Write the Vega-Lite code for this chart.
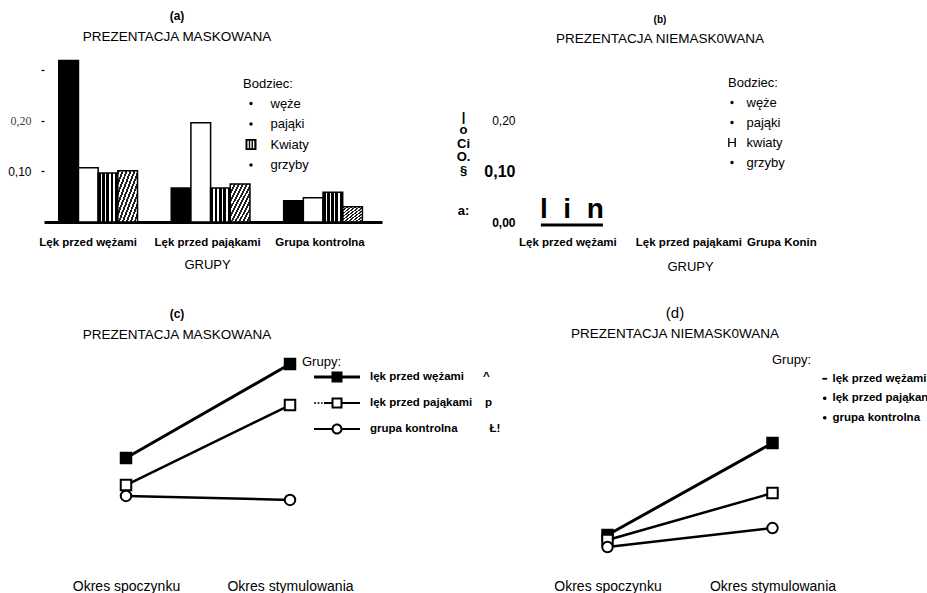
{
  "$schema": "https://vega.github.io/schema/vega-lite/v6.json",
  "background": "white",
  "padding": {"left": 7, "top": 10, "right": 0, "bottom": 0},
  "bounds": "flush",
  "align": "each",
  "columns": 2,
  "spacing": {"row": 128, "column": 143},
  "resolve": {"scale": {"shape": "independent"}, "legend": {"shape": "independent"}},
  "config": {
    "view": {"stroke": null},
    "font": "Liberation Sans",
    "axis": {"labelColor": "black", "titleColor": "black", "labelFont": "Liberation Sans", "titleFont": "Liberation Sans", "grid": false},
    "legend": {"titleColor": "black", "labelColor": "black", "titleFont": "Liberation Sans", "labelFont": "Liberation Sans", "padding": 0},
    "title": {"color": "black", "subtitleColor": "black", "font": "Liberation Sans", "subtitleFont": "Liberation Sans"}
  },
  "concat": [
    {
      "width": 338,
      "height": 162,
      "title": {"text": "(a)", "subtitle": "PREZENTACJA MASKOWANA", "anchor": "middle", "frame": "group", "dx": -36, "fontSize": 12, "fontWeight": "bold", "subtitleFontSize": 13.5, "subtitlePadding": 7, "offset": 15},
      "data": {"values": [
        {"grupa": "Lęk przed wężami", "bodziec": "węże", "wartosc": 0.319},
        {"grupa": "Lęk przed wężami", "bodziec": "pająki", "wartosc": 0.107},
        {"grupa": "Lęk przed wężami", "bodziec": "Kwiaty", "wartosc": 0.097},
        {"grupa": "Lęk przed wężami", "bodziec": "grzyby", "wartosc": 0.101},
        {"grupa": "Lęk przed pająkami", "bodziec": "węże", "wartosc": 0.067},
        {"grupa": "Lęk przed pająkami", "bodziec": "pająki", "wartosc": 0.196},
        {"grupa": "Lęk przed pająkami", "bodziec": "Kwiaty", "wartosc": 0.067},
        {"grupa": "Lęk przed pająkami", "bodziec": "grzyby", "wartosc": 0.075},
        {"grupa": "Grupa kontrolna", "bodziec": "węże", "wartosc": 0.042},
        {"grupa": "Grupa kontrolna", "bodziec": "pająki", "wartosc": 0.048},
        {"grupa": "Grupa kontrolna", "bodziec": "Kwiaty", "wartosc": 0.059},
        {"grupa": "Grupa kontrolna", "bodziec": "grzyby", "wartosc": 0.030}
      ]},
      "layer": [
        {
          "mark": {"type": "bar", "stroke": "black", "strokeWidth": 1.5},
          "encoding": {
            "x": {"field": "grupa", "type": "nominal", "sort": ["Lęk przed wężami", "Lęk przed pająkami", "Grupa kontrolna"],
                  "scale": {"paddingInner": 0.3, "paddingOuter": 0.153, "align": 0.43},
                  "axis": {"title": "GRUPY", "titleFontSize": 13, "titleFontWeight": "normal", "titlePadding": 11, "titleX": 163, "labelFontWeight": "bold", "labelFontSize": 11.5, "labelPadding": 14, "labelAngle": 0, "ticks": false, "domain": true, "domainColor": "black", "domainWidth": 3,
                           "labelOffset": {"condition": {"test": "datum.value === 'Lęk przed wężami'", "value": -10}, "value": -3}}},
            "xOffset": {"field": "bodziec", "type": "nominal", "sort": ["węże", "pająki", "Kwiaty", "grzyby"], "scale": {"paddingInner": 0, "paddingOuter": 0}},
            "y": {"field": "wartosc", "type": "quantitative", "scale": {"domain": [0, 0.32], "nice": false},
                  "axis": {"title": null, "values": [0.1, 0.2, 0.3], "labelExpr": "datum.value > 0.25 ? '' : replace(format(datum.value, '.2f'), '.', ',')", "domain": false, "tickSize": 3, "tickColor": "black", "tickWidth": 1.2, "labelPadding": 10, "labelFontSize": 12,
                           "labelFont": {"condition": {"test": "datum.value > 0.15 && datum.value < 0.25", "value": "Liberation Serif"}, "value": "Liberation Sans"},
                           "labelColor": {"condition": {"test": "datum.value > 0.15 && datum.value < 0.25", "value": "#444444"}, "value": "black"}}},
            "fill": {
              "condition": [
                {"test": "datum.bodziec === 'pająki'", "value": "white"},
                {"test": "datum.bodziec === 'Kwiaty'", "value": {"gradient": "linear", "x1": 0, "y1": 0, "x2": 1, "y2": 0, "stops": [
                  {"offset": 0, "color": "black"}, {"offset": 0.14, "color": "black"}, {"offset": 0.14, "color": "white"}, {"offset": 0.22, "color": "white"},
                  {"offset": 0.22, "color": "black"}, {"offset": 0.34, "color": "black"}, {"offset": 0.34, "color": "white"}, {"offset": 0.42, "color": "white"},
                  {"offset": 0.42, "color": "black"}, {"offset": 0.56, "color": "black"}, {"offset": 0.56, "color": "white"}, {"offset": 0.63, "color": "white"},
                  {"offset": 0.63, "color": "black"}, {"offset": 0.78, "color": "black"}, {"offset": 0.78, "color": "white"}, {"offset": 0.86, "color": "white"},
                  {"offset": 0.86, "color": "black"}, {"offset": 1, "color": "black"}]}},
                {"test": "datum.bodziec === 'grzyby'", "value": {"gradient": "linear", "x1": 0, "y1": 0, "x2": 1, "y2": 1, "stops": [
                  {"offset": 0, "color": "#222222"}, {"offset": 0.05, "color": "#222222"}, {"offset": 0.05, "color": "white"}, {"offset": 0.1, "color": "white"},
                  {"offset": 0.1, "color": "#222222"}, {"offset": 0.15, "color": "#222222"}, {"offset": 0.15, "color": "white"}, {"offset": 0.2, "color": "white"},
                  {"offset": 0.2, "color": "#222222"}, {"offset": 0.25, "color": "#222222"}, {"offset": 0.25, "color": "white"}, {"offset": 0.3, "color": "white"},
                  {"offset": 0.3, "color": "#222222"}, {"offset": 0.35, "color": "#222222"}, {"offset": 0.35, "color": "white"}, {"offset": 0.4, "color": "white"},
                  {"offset": 0.4, "color": "#222222"}, {"offset": 0.45, "color": "#222222"}, {"offset": 0.45, "color": "white"}, {"offset": 0.5, "color": "white"},
                  {"offset": 0.5, "color": "#222222"}, {"offset": 0.55, "color": "#222222"}, {"offset": 0.55, "color": "white"}, {"offset": 0.6, "color": "white"},
                  {"offset": 0.6, "color": "#222222"}, {"offset": 0.65, "color": "#222222"}, {"offset": 0.65, "color": "white"}, {"offset": 0.7, "color": "white"},
                  {"offset": 0.7, "color": "#222222"}, {"offset": 0.75, "color": "#222222"}, {"offset": 0.75, "color": "white"}, {"offset": 0.8, "color": "white"},
                  {"offset": 0.8, "color": "#222222"}, {"offset": 0.85, "color": "#222222"}, {"offset": 0.85, "color": "white"}, {"offset": 0.9, "color": "white"},
                  {"offset": 0.9, "color": "#222222"}, {"offset": 0.95, "color": "#222222"}, {"offset": 0.95, "color": "white"}, {"offset": 1, "color": "white"}]}}
              ],
              "value": "black"
            }
          }
        },
        {
          "mark": {"type": "point", "opacity": 0, "filled": true, "color": "black"},
          "encoding": {
            "shape": {"field": "bodziec", "type": "nominal",
                      "scale": {"domain": ["węże", "pająki", "Kwiaty", "grzyby"],
                                "range": ["M-0.3,0A0.3,0.3,0,1,1,0.3,0A0.3,0.3,0,1,1,-0.3,0Z",
                                          "M-0.3,0A0.3,0.3,0,1,1,0.3,0A0.3,0.3,0,1,1,-0.3,0Z",
                                          "M-1,-1H1V-0.7H-1Z M-1,0.7H1V1H-1Z M-1,-1H-0.65V1H-1Z M-0.4,-1H-0.15V1H-0.4Z M0.1,-1H0.35V1H0.1Z M0.6,-1H1V1H0.6Z",
                                          "M-0.3,0A0.3,0.3,0,1,1,0.3,0A0.3,0.3,0,1,1,-0.3,0Z"]},
                      "legend": {"title": "Bodziec:", "orient": "none", "legendX": 199, "legendY": 18, "titleFontSize": 13, "titleFontWeight": "normal", "titlePadding": 6,
                                 "labelFontSize": 13, "labelFontWeight": "normal", "symbolSize": 121, "symbolFillColor": "black", "symbolStrokeColor": "black", "symbolStrokeWidth": 0, "symbolOpacity": 1,
                                 "symbolOffset": 1.5, "labelOffset": 13, "rowPadding": 6.5,
                                 "encode": {"labels": {"update": {"dx": {"signal": "datum.label === 'Kwiaty' ? -6 : 0"}}}}}}
          }
        }
      ]
    },
    {
      "width": 330,
      "height": 162,
      "title": {"text": "(b)", "subtitle": "PREZENTACJA NIEMASK0WANA", "anchor": "middle", "frame": "group", "dx": -30, "fontSize": 10, "fontWeight": "bold", "subtitleFontSize": 13.5, "subtitlePadding": 7, "offset": 15},
      "layer": [
        {
          "data": {"values": [{"grupa": "Lęk przed wężami", "wartosc": 0}]},
          "mark": {"type": "text", "text": "l\u00a0\u00a0i\u00a0\u00a0n", "font": "Liberation Sans", "fontWeight": "bold", "fontSize": 28, "baseline": "alphabetic", "dy": -4, "color": "black"},
          "encoding": {
            "x": {"field": "grupa", "type": "nominal",
                  "scale": {"domain": ["Lęk przed wężami", "Lęk przed pająkami", "Grupa Konin"], "paddingInner": 0.3, "paddingOuter": 0.0974, "align": 0.315},
                  "axis": {"title": "GRUPY", "titleFontSize": 13, "titleFontWeight": "normal", "titlePadding": 13, "labelFontWeight": "bold", "labelFontSize": 11.5, "labelPadding": 14, "labelAngle": 0, "ticks": false, "domain": false,
                           "labelOffset": {"condition": [{"test": "datum.value === 'Grupa Konin'", "value": -18}, {"test": "datum.value === 'Lęk przed pająkami'", "value": 3}], "value": -4}}},
            "y": {"field": "wartosc", "type": "quantitative", "scale": {"domain": [0, 0.32], "nice": false},
                  "axis": {"values": [0, 0.1, 0.2], "labelExpr": "replace(format(datum.value, '.2f'), '.', ',')", "domain": false, "ticks": false, "labelPadding": 10,
                           "labelFontWeight": {"condition": {"test": "datum.value < 0.15", "value": "bold"}, "value": "normal"},
                           "labelFontSize": {"condition": {"test": "datum.value > 0.05 && datum.value < 0.15", "value": 16}, "value": 12},
                           "title": ["|", "o", "Ci", "O.", "§", "\u2800", "\u2800\u2800", "a:"], "titleAngle": 0, "titleX": -62, "titleY": 50, "titleAlign": "center", "titleBaseline": "top",
                           "titleFontWeight": "bold", "titleFontSize": 13, "titleLineHeight": 13.5}}
          }
        },
        {
          "data": {"values": [{"grupa": "Lęk przed wężami", "wartosc": 0}]},
          "mark": {"type": "tick", "thickness": 3, "size": 62, "color": "black", "opacity": 1, "yOffset": 3},
          "encoding": {
            "x": {"field": "grupa", "type": "nominal"},
            "y": {"field": "wartosc", "type": "quantitative"}
          }
        },
        {
          "data": {"values": [{"bodziec": "węże"}, {"bodziec": "pająki"}, {"bodziec": "kwiaty"}, {"bodziec": "grzyby"}]},
          "mark": {"type": "point", "opacity": 0, "filled": true, "color": "black"},
          "encoding": {
            "shape": {"field": "bodziec", "type": "nominal",
                      "scale": {"domain": ["węże", "pająki", "kwiaty", "grzyby"],
                                "range": ["M-0.3,0A0.3,0.3,0,1,1,0.3,0A0.3,0.3,0,1,1,-0.3,0Z",
                                          "M-0.3,0A0.3,0.3,0,1,1,0.3,0A0.3,0.3,0,1,1,-0.3,0Z",
                                          "M-0.7,-0.8H-0.45V0.8H-0.7Z M0.45,-0.8H0.7V0.8H0.45Z M-0.45,-0.1H0.45V0.1H-0.45Z",
                                          "M-0.3,0A0.3,0.3,0,1,1,0.3,0A0.3,0.3,0,1,1,-0.3,0Z"]},
                      "legend": {"title": "Bodziec:", "orient": "none", "legendX": 203, "legendY": 17, "titleFontSize": 13, "titleFontWeight": "normal", "titlePadding": 6,
                                 "labelFontSize": 13, "labelFontWeight": "normal", "symbolSize": 121, "symbolFillColor": "black", "symbolStrokeColor": "black", "symbolStrokeWidth": 0, "symbolOpacity": 1,
                                 "symbolOffset": -2.5, "labelOffset": 8, "rowPadding": 6}}
          }
        }
      ]
    },
    {
      "width": 328,
      "height": 210,
      "title": {"text": "(c)", "subtitle": "PREZENTACJA MASKOWANA", "anchor": "middle", "frame": "group", "dx": -31, "fontSize": 12, "fontWeight": "bold", "subtitleFontSize": 13.5, "subtitlePadding": 7, "offset": 8},
      "data": {"values": [
        {"okres": "Okres spoczynku", "grupa": "lęk przed wężami", "wartosc": 0.486},
        {"okres": "Okres stymulowania", "grupa": "lęk przed wężami", "wartosc": 0.933},
        {"okres": "Okres spoczynku", "grupa": "lęk przed pająkami", "wartosc": 0.357},
        {"okres": "Okres stymulowania", "grupa": "lęk przed pająkami", "wartosc": 0.738},
        {"okres": "Okres spoczynku", "grupa": "grupa kontrolna", "wartosc": 0.305},
        {"okres": "Okres stymulowania", "grupa": "grupa kontrolna", "wartosc": 0.286}
      ]},
      "encoding": {
        "x": {"field": "okres", "type": "ordinal", "sort": ["Okres spoczynku", "Okres stymulowania"], "scale": {"type": "point", "padding": 0.5},
              "axis": {"title": null, "domain": false, "ticks": false, "labelAngle": 0, "labelFontSize": 14, "labelPadding": 19}},
        "y": {"field": "wartosc", "type": "quantitative", "scale": {"domain": [0, 1], "nice": false}, "axis": null}
      },
      "layer": [
        {
          "mark": {"type": "line", "color": "black"},
          "encoding": {
            "detail": {"field": "grupa", "type": "nominal"},
            "strokeWidth": {"condition": {"test": "datum.grupa === 'lęk przed wężami'", "value": 3}, "value": 2.5}
          }
        },
        {
          "mark": {"type": "point", "filled": true, "stroke": "black", "strokeWidth": 2, "opacity": 1, "size": 110},
          "encoding": {
            "shape": {"condition": {"test": "datum.grupa === 'grupa kontrolna'", "value": "circle"}, "value": "square"},
            "fill": {"condition": {"test": "datum.grupa === 'lęk przed wężami'", "value": "black"}, "value": "white"}
          }
        },
        {
          "mark": {"type": "point", "opacity": 0, "filled": true, "color": "black"},
          "encoding": {
            "shape": {"field": "grupa", "type": "nominal",
                      "scale": {"domain": ["lęk przed wężami", "lęk przed pająkami", "grupa kontrolna"],
                                "range": ["M-2.3,-0.15H-0.55V-0.55H0.55V-0.15H2.3V0.15H0.55V0.55H-0.55V0.15H-2.3Z",
                                          "M-0.55,-0.55H0.55V0.55H-0.55Z M-0.35,-0.35V0.35H0.35V-0.35Z M0.55,-0.1H2.3V0.1H0.55Z M-1.3,-0.1H-0.55V0.1H-1.3Z M-2.3,-0.07H-2.1V0.07H-2.3Z M-1.95,-0.07H-1.75V0.07H-1.95Z M-1.6,-0.07H-1.45V0.07H-1.6Z",
                                          "M-0.55,0A0.55,0.55,0,1,0,0.55,0A0.55,0.55,0,1,0,-0.55,0Z M-0.35,0A0.35,0.35,0,1,1,0.35,0A0.35,0.35,0,1,1,-0.35,0Z M-2.3,-0.1H-0.55V0.1H-2.3Z M0.55,-0.1H2.3V0.1H0.55Z"]},
                      "legend": {"title": "Grupy:", "orient": "none", "legendX": 258, "legendY": 6, "titleFontSize": 13, "titleFontWeight": "normal", "titlePadding": -2,
                                 "labelFontWeight": "bold", "labelFontSize": 11.5,
                                 "labelExpr": "datum.label === 'lęk przed wężami' ? datum.label + '\u00a0\u00a0\u00a0\u00a0\u00a0\u00a0^' : datum.label === 'lęk przed pająkami' ? datum.label + '\u00a0\u00a0\u00a0\u00a0p' : datum.label + '\u00a0\u00a0\u00a0\u00a0\u00a0\u00a0\u00a0\u00a0\u00a0\u00a0Ł!'",
                                 "symbolSize": 400, "symbolFillColor": "black", "symbolStrokeColor": "black", "symbolStrokeWidth": 0, "symbolOpacity": 1,
                                 "symbolOffset": 25, "labelOffset": 23, "rowPadding": 10}}
          }
        }
      ]
    },
    {
      "width": 330,
      "height": 210,
      "title": {"text": "(d)", "subtitle": "PREZENTACJA NIEMASK0WANA", "anchor": "middle", "frame": "group", "dx": -15, "fontSize": 15, "fontWeight": "normal", "subtitleFontSize": 13.5, "subtitlePadding": 6, "offset": 10},
      "data": {"values": [
        {"okres": "Okres spoczynku", "grupa": "lęk przed wężami", "wartosc": 0.119},
        {"okres": "Okres stymulowania", "grupa": "lęk przed wężami", "wartosc": 0.557},
        {"okres": "Okres spoczynku", "grupa": "lęk przed pająkami", "wartosc": 0.095},
        {"okres": "Okres stymulowania", "grupa": "lęk przed pająkami", "wartosc": 0.319},
        {"okres": "Okres spoczynku", "grupa": "grupa kontrolna", "wartosc": 0.062},
        {"okres": "Okres stymulowania", "grupa": "grupa kontrolna", "wartosc": 0.152}
      ]},
      "encoding": {
        "x": {"field": "okres", "type": "ordinal", "sort": ["Okres spoczynku", "Okres stymulowania"], "scale": {"type": "point", "padding": 0.5},
              "axis": {"title": null, "domain": false, "ticks": false, "labelAngle": 0, "labelFontSize": 14, "labelPadding": 19}},
        "y": {"field": "wartosc", "type": "quantitative", "scale": {"domain": [0, 1], "nice": false}, "axis": null}
      },
      "layer": [
        {
          "mark": {"type": "line", "color": "black"},
          "encoding": {
            "detail": {"field": "grupa", "type": "nominal"},
            "strokeWidth": {"condition": {"test": "datum.grupa === 'lęk przed wężami'", "value": 3}, "value": 2.5}
          }
        },
        {
          "mark": {"type": "point", "filled": true, "stroke": "black", "strokeWidth": 2, "opacity": 1, "size": 110},
          "encoding": {
            "shape": {"condition": {"test": "datum.grupa === 'grupa kontrolna'", "value": "circle"}, "value": "square"},
            "fill": {"condition": {"test": "datum.grupa === 'lęk przed wężami'", "value": "black"}, "value": "white"}
          }
        },
        {
          "mark": {"type": "point", "opacity": 0, "filled": true, "color": "black"},
          "encoding": {
            "shape": {"field": "grupa", "type": "nominal",
                      "scale": {"domain": ["lęk przed wężami", "lęk przed pająkami", "grupa kontrolna"],
                                "range": ["M-0.8,-0.3H0.8V0.3H-0.8Z",
                                          "M-0.6,0A0.6,0.6,0,1,1,0.6,0A0.6,0.6,0,1,1,-0.6,0Z",
                                          "M-0.6,0A0.6,0.6,0,1,1,0.6,0A0.6,0.6,0,1,1,-0.6,0Z"]},
                      "legend": {"title": "Grupy:", "orient": "none", "legendX": 247, "legendY": 4, "titleFontSize": 13, "titleFontWeight": "normal", "titlePadding": 6,
                                 "labelFontWeight": "bold", "labelFontSize": 11.5,
                                 "labelExpr": "datum.label === 'lęk przed pająkami' ? 'lęk przed pająkan' : datum.label",
                                 "symbolSize": 36, "symbolFillColor": "black", "symbolStrokeColor": "black", "symbolStrokeWidth": 0, "symbolOpacity": 1,
                                 "symbolOffset": 47, "labelOffset": 2, "rowPadding": 6.5}}
          }
        }
      ]
    }
  ]
}
